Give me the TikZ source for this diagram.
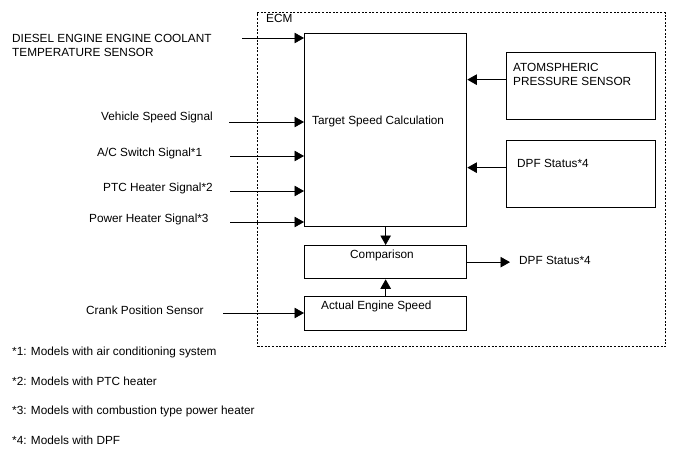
\documentclass[tikz,border=0pt]{standalone}
\usepackage{fontspec}
\setmainfont{Liberation Sans}
\usetikzlibrary{arrows.meta,positioning,calc}
\tikzset{
  blk/.style={rectangle, draw=black, line width=1.3pt, inner sep=0pt, anchor=north west},
  lbl/.style={font=\fontsize{11.8}{14}\selectfont, inner sep=0pt, anchor=west, align=left},
  arr/.style={-{Triangle[length=9.5pt,width=10.5pt]}, line width=0.8pt, color=black},
  ecm/.style={rectangle, draw=black, dash pattern=on 2pt off 1.6pt, line width=1pt,
              inner sep=0pt, anchor=north west},
}

\begin{document}
\begin{tikzpicture}[x=1pt, y=1pt]
    \useasboundingbox (0,0) rectangle (688,-463);
    % ECM frame and blocks
    \node[ecm, minimum width=408pt, minimum height=334pt] (ecm) at (257,-12) {};
    \node[lbl] (ecmtxt) at (266,-18) {ECM};
    \node[blk, minimum width=162pt, minimum height=193pt] (tsc) at (304,-33) {};
    \node[blk, minimum width=149pt, minimum height=67pt]  (atm) at (506,-52) {};
    \node[blk, minimum width=149pt, minimum height=67pt]  (dpf) at (506,-140) {};
    \node[blk, minimum width=162pt, minimum height=33pt]  (cmp) at (304,-245) {};
    \node[blk, minimum width=162pt, minimum height=34pt]  (aes) at (304,-296) {};
    \node[lbl] (tsctxt) at (312,-121) {Target Speed Calculation};
    \node[lbl] (atmtxt) at (513,-74) {ATOMSPHERIC\\PRESSURE SENSOR};
    \node[lbl] (dpftxt) at (517,-163) {DPF Status*4};
    \node[lbl, anchor=center] (cmptxt) at (382,-255) {Comparison};
    \node[lbl] (aestxt) at (321,-306) {Actual Engine Speed};
    \node[lbl] (dpfout) at (519,-260) {DPF Status*4};

    % input signals
    \node[lbl] (ect) at (12,-45.5) {DIESEL ENGINE ENGINE COOLANT\\TEMPERATURE SENSOR};
    \node[lbl] (spd) at (101,-117) {Vehicle Speed Signal};
    \node[lbl] (ac)  at (97,-153)  {A/C Switch Signal*1};
    \node[lbl] (ptc) at (103,-188) {PTC Heater Signal*2};
    \node[lbl] (pwr) at (89,-219)  {Power Heater Signal*3};
    \node[lbl] (crk) at (86,-310)  {Crank Position Sensor};
    \coordinate (ectin) at (242,-38);
    \coordinate (spdin) at (229,-122);
    \coordinate (acin)  at (230,-156);
    \coordinate (ptcin) at (230,-191);
    \coordinate (pwrin) at (230,-222);
    \coordinate (crkin) at (223,-313);

    \draw[arr] (ectin)--(ectin -| tsc.west); \draw[arr] (spdin)--(spdin -| tsc.west);
    \draw[arr] (acin)--(acin -| tsc.west);   \draw[arr] (ptcin)--(ptcin -| tsc.west);
    \draw[arr] (pwrin)--(pwrin -| tsc.west); \draw[arr] (crkin)--(crkin -| aes.west);
    \draw[arr] ([yshift=6.5pt]atm.west)--([yshift=6.5pt]atm.west -| tsc.east);
    \draw[arr] ([yshift=6.5pt]dpf.west)--([yshift=6.5pt]dpf.west -| tsc.east);
    \draw[arr] (tsc.south)--(cmp.north); \draw[arr] (aes.north)--(cmp.south);
    \draw[arr] (cmp.east)--([xshift=-9pt]dpfout.west |- cmp.east);

    % footnotes
    \node[lbl] (fn1) at (12,-352) {*1: Models with air conditioning system};
    \node[lbl] (fn2) at (12,-381) {*2: Models with PTC heater};
    \node[lbl] (fn3) at (12,-411) {*3: Models with combustion type power heater};
    \node[lbl] (fn4) at (12,-440) {*4: Models with DPF};
  \end{tikzpicture}
\end{document}
